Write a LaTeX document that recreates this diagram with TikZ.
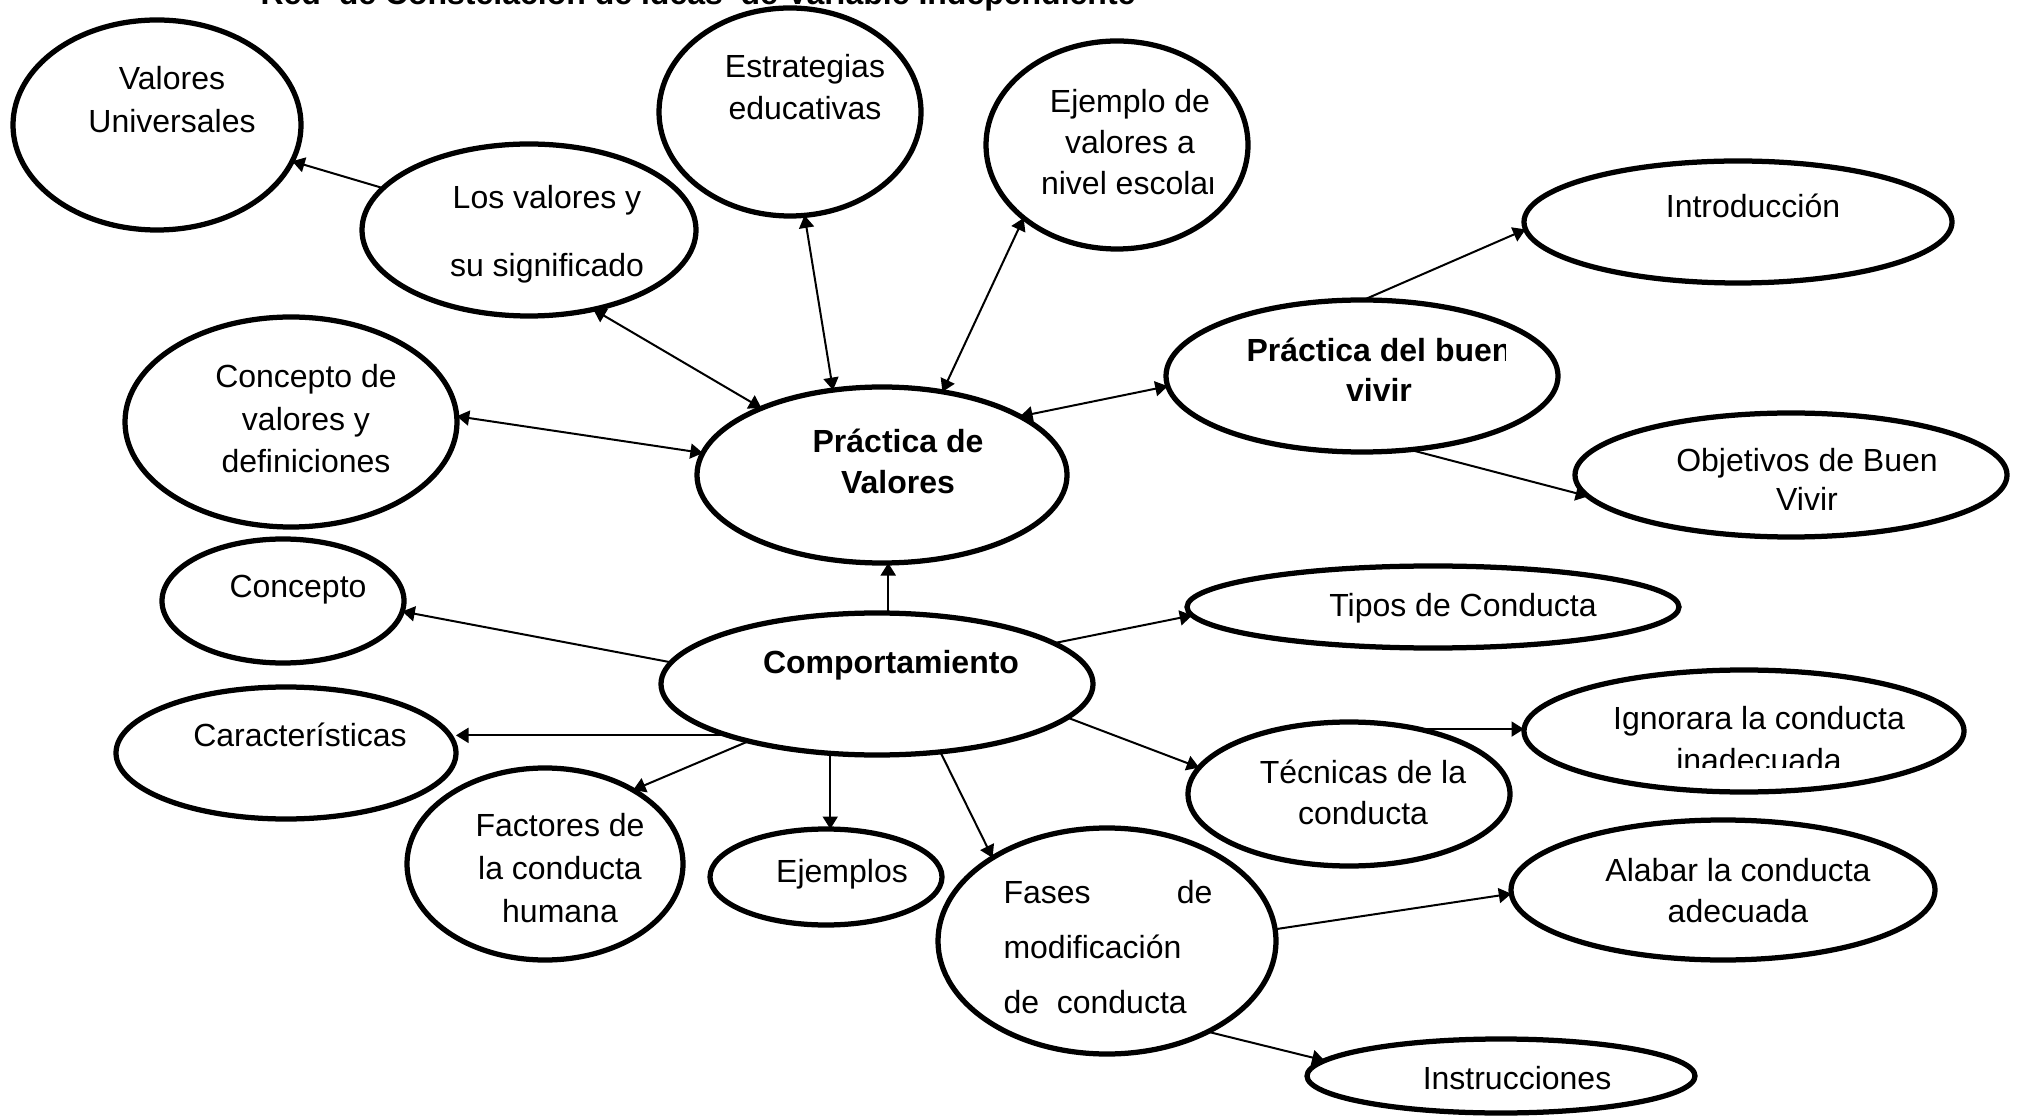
\documentclass[tikz,border=0pt]{standalone}
\usepackage{fontspec}
\setmainfont{Liberation Sans}
\usetikzlibrary{shapes.geometric,arrows.meta}
\newcommand{\tb}[2]{\fontsize{12.8}{#1}\selectfont\begin{tabular}[t]{@{}c@{}}#2\end{tabular}}
\begin{document}
\begin{tikzpicture}[x=0.4pt,y=-0.4pt,
  bub/.style={draw, ellipse, line width=2.1pt, inner sep=0pt, outer sep=0pt},
  e/.style 2 args={minimum width=#1*0.8pt, minimum height=#2*0.8pt},
  txt/.style={anchor=base, inner sep=0pt, font=\fontsize{12.8}{16.6}\selectfont},
  arr/.style={-{Triangle[length=5pt,width=6pt]}, line width=0.8pt},
  darr/.style={{Triangle[length=5pt,width=6pt]}-{Triangle[length=5pt,width=6pt]}, line width=0.8pt}]
\useasboundingbox (0,0) rectangle (2018,1117);
\fill[white] (0,0) rectangle (2018,1117);

% title (cut by the top edge)
\node[txt, font=\bfseries\fontsize{12.8}{16}\selectfont] (title) at (698,5) {Red\ \ de Constelación de ideas\ \ de Variable Independiente};

% bubbles
\node[bub,e={144}{105}] (A) at (157,125) {};
\node[bub,e={167}{86}] (B) at (529,230) {};
\node[bub,e={131}{104}] (C) at (790,112) {};
\node[bub,e={131}{104}] (D) at (1117,145) {};
\node[bub,e={166}{105}] (E) at (291,422) {};
\node[bub,e={185}{88}] (P) at (882,475) {};
\node[bub,e={196}{76}] (Q) at (1362,376) {};
\node[bub,e={214}{61}] (I) at (1738,222) {};
\node[bub,e={216}{62}] (O) at (1791,475) {};
\node[bub,e={121}{62}] (K) at (283,601) {};
\node[bub,e={170}{66}] (Ch) at (286,753) {};
\node[bub,e={216}{71}] (M) at (877,684) {};
\node[bub,e={138}{96}] (F) at (545,864) {};
\node[bub,e={116}{48}] (Ej) at (826,877) {};
\node[bub,e={169}{113}] (Fa) at (1107,941) {};
\node[bub,e={246}{41}] (T) at (1433,607) {};
\node[bub,e={161}{72}] (Te) at (1349,794) {};
\node[bub,e={220}{61}] (G) at (1744,731) {};
\node[bub,e={212}{70}] (Al) at (1723,890) {};
\node[bub,e={194}{37}] (In) at (1501,1076) {};

% texts
\node[txt] (tA) at (172,90) {\tb{17.2pt}{Valores\\Universales}};
\node[txt] (tB) at (547,209) {\tb{27.2pt}{Los valores y\\su significado}};
\node[txt] (tC) at (805,78) {\tb{16.8pt}{Estrategias\\educativas}};
\begin{scope}
\clip (990,40) rectangle (1212,250);
\node[txt] (tD) at (1130,113) {\tb{16.4pt}{Ejemplo de\\valores a\\nivel escolar}};
\end{scope}
\node[txt] (tE) at (306,388) {\tb{17pt}{Concepto de\\valores y\\definiciones}};
\node[txt, font=\bfseries] (tP) at (898,453) {\tb{16.4pt}{Práctica de\\Valores}};
\begin{scope}
\clip (1170,300) rectangle (1505,450);
\node[txt, font=\bfseries] (tQ) at (1379,362) {\tb{16pt}{Práctica del buen\\vivir}};
\end{scope}
\node[txt] (tI) at (1753,218) {Introducción};
\node[txt] (tO) at (1807,472) {\tb{15.6pt}{Objetivos de Buen\\Vivir}};
\node[txt] (tK) at (298,598) {Concepto};
\node[txt] (tCh) at (300,746) {Características};
\node[txt, font=\bfseries\fontsize{12.8}{16}\selectfont] (tM) at (891,673) {Comportamiento};
\node[txt] (tF) at (560,836) {\tb{17.2pt}{Factores de\\la conducta\\humana}};
\node[txt] (tEj) at (842,882) {Ejemplos};
\node[txt] (tT) at (1463,617) {Tipos de Conducta};
\node[txt] (tTe) at (1363,783) {\tb{16.4pt}{Técnicas de la\\conducta}};
\begin{scope}
\clip (1530,680) rectangle (1960,767);
\node[txt] (tG) at (1759,729) {\tb{16.8pt}{Ignorara la conducta\\inadecuada}};
\end{scope}
\node[txt] (tAl) at (1738,881) {\tb{16.4pt}{Alabar la conducta\\adecuada}};
\node[txt, anchor=base west] (tFa) at (1003,903) {\fontsize{12.8}{22pt}\selectfont\begin{tabular}[t]{@{}l@{}}\makebox[83.6pt]{Fases\hfill de}\\modificación\\de\ \ conducta\end{tabular}};
\node[txt] (tIn) at (1517,1089) {Instrucciones};

% connectors
\draw[arr] (B.164) -- (A.-15.8);
\draw[darr] (B.-51.5) -- (P.151);
\draw[darr] (C.-82.2) -- (P.120.3);
\draw[darr] (D.-142.5) -- (P.54.7);
\draw[darr] (E.2.7) -- (P.173.9);
\draw[darr] (Q.-177.1) -- (P.23);
\draw[arr] (Q.89.3) -- (I.-178.1);
\draw[arr] (Q.-57.7) -- (O.-174.7);
\draw[arr] (M.81.4) -- (M.81.4 |- P.south);
\draw[arr] (M.174.5) -- (K.-5.1);
\draw[arr] (M.-161) -- (M.-161 -| Ch.east);
\draw[arr] (M.-156.4) -- (F.40.3);
\draw[arr] (M.-124.6) -- (M.-124.6 |- Ej.north);
\draw[arr] (M.-47.6) -- (Fa.144.1);
\draw[arr] (M.13.9) -- (T.-178.4);
\draw[arr] (M.-10.9) -- (Te.170.8);
\draw[arr] (Te.43.2) -- (Te.43.2 -| G.west);
\draw[arr] (Fa.4.9) -- (Al.-179.5);
\draw[arr] (Fa.-42.8) -- (In.175.6);
\end{tikzpicture}
\end{document}
